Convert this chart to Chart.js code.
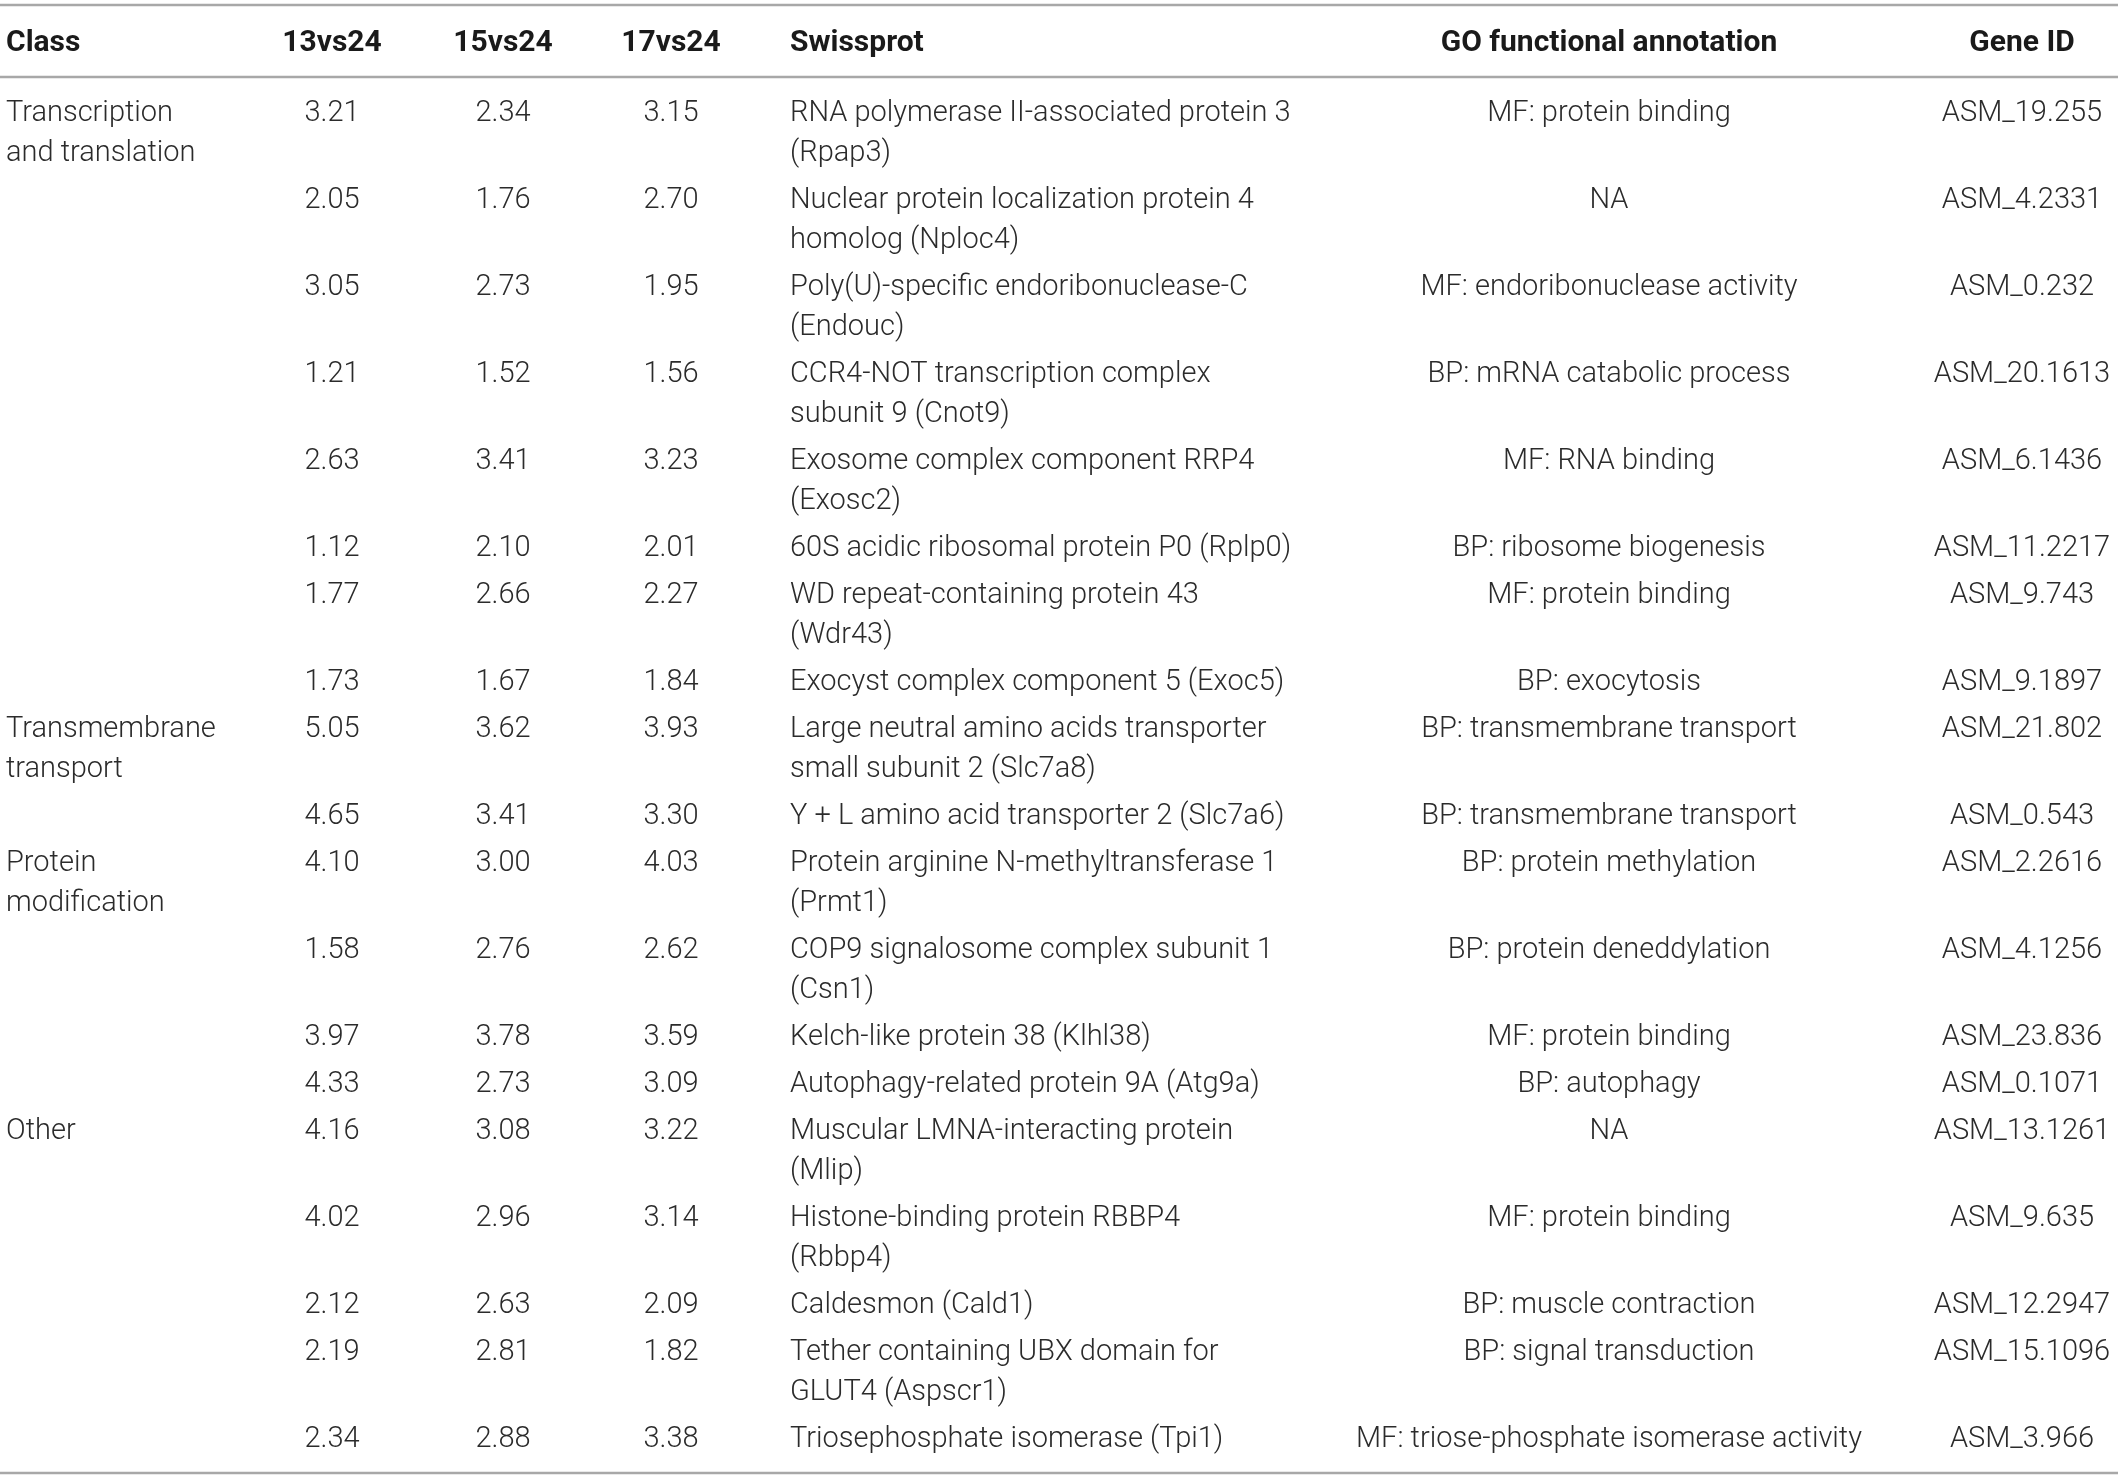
<!DOCTYPE html>
<html>
<head>
<meta charset="utf-8">
<script src="https://cdn.jsdelivr.net/npm/chart.js@4.4.1/dist/chart.umd.min.js"></script>
<style>
  html, body { margin: 0; padding: 0; background: #ffffff; }
  #wrap { width: 2118px; height: 1479px; }
</style>
</head>
<body>
<div id="wrap"><canvas id="tableChart" width="2118" height="1479"></canvas></div>
<script>
// table content
const HEADERS = ["Class", "13vs24", "15vs24", "17vs24", "Swissprot", "GO functional annotation", "Gene ID"];

const CLASSES = [
    "Transcription\nand translation", "", "", "", "", "", "", "",
    "Transmembrane\ntransport", "",
    "Protein\nmodification", "", "", "",
    "Other", "", "", "", ""
];

const V13 = [3.21, 2.05, 3.05, 1.21, 2.63, 1.12, 1.77, 1.73, 5.05, 4.65, 4.10, 1.58, 3.97, 4.33, 4.16, 4.02, 2.12, 2.19, 2.34];
const V15 = [2.34, 1.76, 2.73, 1.52, 3.41, 2.10, 2.66, 1.67, 3.62, 3.41, 3.00, 2.76, 3.78, 2.73, 3.08, 2.96, 2.63, 2.81, 2.88];
const V17 = [3.15, 2.70, 1.95, 1.56, 3.23, 2.01, 2.27, 1.84, 3.93, 3.30, 4.03, 2.62, 3.59, 3.09, 3.22, 3.14, 2.09, 1.82, 3.38];

const SWISSPROT = [
    "RNA polymerase II-associated protein 3\n(Rpap3)",
    "Nuclear protein localization protein 4\nhomolog (Nploc4)",
    "Poly(U)-specific endoribonuclease-C\n(Endouc)",
    "CCR4-NOT transcription complex\nsubunit 9 (Cnot9)",
    "Exosome complex component RRP4\n(Exosc2)",
    "60S acidic ribosomal protein P0 (Rplp0)",
    "WD repeat-containing protein 43\n(Wdr43)",
    "Exocyst complex component 5 (Exoc5)",
    "Large neutral amino acids transporter\nsmall subunit 2 (Slc7a8)",
    "Y + L amino acid transporter 2 (Slc7a6)",
    "Protein arginine N-methyltransferase 1\n(Prmt1)",
    "COP9 signalosome complex subunit 1\n(Csn1)",
    "Kelch-like protein 38 (Klhl38)",
    "Autophagy-related protein 9A (Atg9a)",
    "Muscular LMNA-interacting protein\n(Mlip)",
    "Histone-binding protein RBBP4\n(Rbbp4)",
    "Caldesmon (Cald1)",
    "Tether containing UBX domain for\nGLUT4 (Aspscr1)",
    "Triosephosphate isomerase (Tpi1)"
];

const GO_ANNOT = [
    "MF: protein binding", "NA", "MF: endoribonuclease activity", "BP: mRNA catabolic process",
    "MF: RNA binding", "BP: ribosome biogenesis", "MF: protein binding", "BP: exocytosis",
    "BP: transmembrane transport", "BP: transmembrane transport", "BP: protein methylation",
    "BP: protein deneddylation", "MF: protein binding", "BP: autophagy", "NA",
    "MF: protein binding", "BP: muscle contraction", "BP: signal transduction",
    "MF: triose-phosphate isomerase activity"
];

const GENE_IDS = [
    "ASM_19.255", "ASM_4.2331", "ASM_0.232", "ASM_20.1613", "ASM_6.1436", "ASM_11.2217",
    "ASM_9.743", "ASM_9.1897", "ASM_21.802", "ASM_0.543", "ASM_2.2616", "ASM_4.1256",
    "ASM_23.836", "ASM_0.1071", "ASM_13.1261", "ASM_9.635", "ASM_12.2947", "ASM_15.1096",
    "ASM_3.966"
];

// layout
const W = 2118, H = 1479;
const COL_X = [6, 332, 503, 671, 790, 1609, 2022];
const COL_ALIGN = ["left", "center", "center", "center", "left", "center", "center"];
const HEADER_Y = 43;
const FIRST_ROW_Y = 114;
const ROW_STEP = 47;
const LINE_STEP = 40;
const RULE_Y = [5, 77, 1473];
const BODY_FONT = '300 29px "Roboto", "Liberation Sans", sans-serif';
const HEAD_FONT = 'bold 30px "Roboto", "Liberation Sans", sans-serif';
const TEXT_COLOR = "#2b2b2b";
const RULE_COLOR = "#a8a8a8";

const rowCells = (i) => [CLASSES[i], V13[i].toFixed(2), V15[i].toFixed(2), V17[i].toFixed(2), SWISSPROT[i], GO_ANNOT[i], GENE_IDS[i]];

// y of first text line per row, from the number of lines in each row
const rowY = [];
let y = FIRST_ROW_Y;
for (let i = 0; i < GENE_IDS.length; i++) {
    rowY.push(y);
    const lines = Math.max(...rowCells(i).map((t) => t.split("\n").length));
    y += ROW_STEP + LINE_STEP * (lines - 1);
}

// one dataset per column, header cell first then body cells
const columnSets = HEADERS.map((head, c) => {
    const pts = [{ x: COL_X[c], y: HEADER_Y, text: head, bold: true }];
    rowY.forEach((ry, i) => {
        pts.push({ x: COL_X[c], y: ry, text: rowCells(i)[c], bold: false });
    });
    return {
        type: "scatter",
        label: head,
        data: pts,
        pointRadius: 0,
        align: COL_ALIGN[c],
        isCell: true
    };
});

const ruleSets = RULE_Y.map((ry, k) => ({
    type: "line",
    label: "rule" + k,
    data: [{ x: 0, y: ry }, { x: W, y: ry }],
    borderColor: RULE_COLOR,
    borderWidth: 2.5,
    pointRadius: 0,
    showLine: true
}));

const cellTextPlugin = {
    id: "cellText",
    afterDatasetsDraw(chart) {
        const ctx = chart.ctx;
        ctx.save();
        ctx.textBaseline = "middle";
        chart.data.datasets.forEach((ds, di) => {
            if (!ds.isCell) return;
            const meta = chart.getDatasetMeta(di);
            ctx.textAlign = ds.align;
            meta.data.forEach((pt, i) => {
                const cell = ds.data[i];
                ctx.font = cell.bold ? HEAD_FONT : BODY_FONT;
                ctx.fillStyle = cell.bold ? "#1a1a1a" : TEXT_COLOR;
                cell.text.split("\n").forEach((line, li) => {
                    const ly = chart.scales.y.getPixelForValue(cell.y + li * LINE_STEP);
                    ctx.fillText(line, pt.x, ly);
                });
            });
        });
        ctx.restore();
    }
};

new Chart(document.getElementById("tableChart"), {
    type: "scatter",
    data: { datasets: [...ruleSets, ...columnSets] },
    options: {
        responsive: false,
        animation: false,
        devicePixelRatio: 1,
        layout: { padding: 0 },
        plugins: { legend: { display: false }, tooltip: { enabled: false } },
        scales: {
            x: { type: "linear", min: 0, max: W, display: false },
            y: { type: "linear", min: 0, max: H, reverse: true, display: false }
        }
    },
    plugins: [cellTextPlugin]
});
</script>
</body>
</html>
